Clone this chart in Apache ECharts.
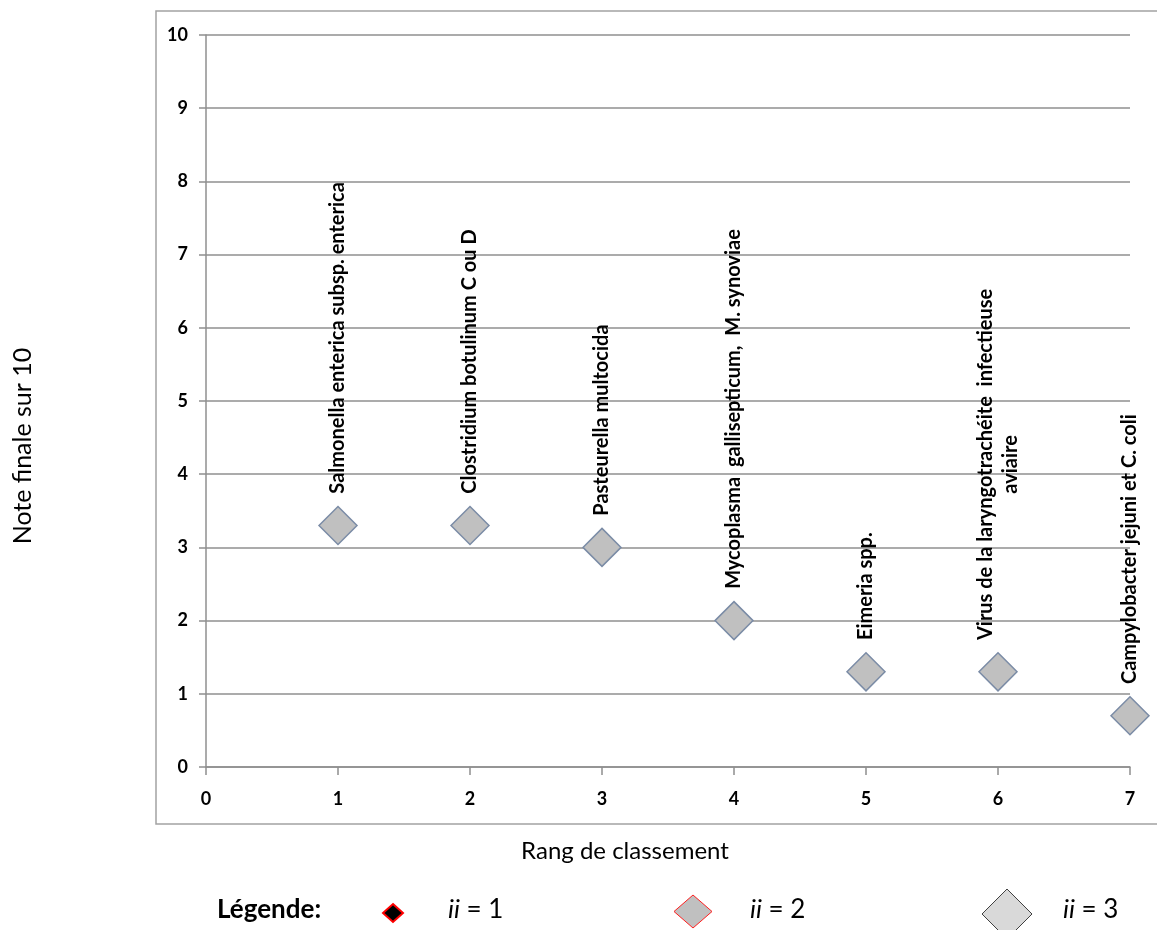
<!DOCTYPE html>
<html>
<head>
<meta charset="utf-8">
<script src="https://cdn.jsdelivr.net/npm/echarts@6/dist/echarts.min.js"></script>
<style>
  html, body { margin: 0; padding: 0; background: #fff; }
  #chart { width: 1157px; height: 930px; }
</style>
</head>
<body>
<div id="chart"></div>
<script>
// ---- Data ----
const ranks = [1, 2, 3, 4, 5, 6, 7];
const scores = [3.3, 3.3, 3.0, 2.0, 1.3, 1.3, 0.7];
const names = [
  'Salmonella enterica subsp. enterica',
  'Clostridium botulinum C ou D',
  'Pasteurella multocida',
  'Mycoplasma  gallisepticum,  M. synoviae',
  'Eimeria spp.',
  'Virus de la laryngotrachéite  infectieuse\naviaire',
  'Campylobacter jejuni et C. coli'
];
const xTicks = [0, 1, 2, 3, 4, 5, 6, 7];
const yTicks = [0, 1, 2, 3, 4, 5, 6, 7, 8, 9, 10];
const xTitle = 'Rang de classement';
const yTitle = 'Note finale sur 10';
const legendTitle = 'Légende:';
const legendItems = ['1', '2', '3'];

const FONT = 'Lato';
const GRID_COLOR = '#8f8f8f';

const chart = echarts.init(document.getElementById('chart'));

const seriesData = ranks.map((r, i) => ({ name: names[i], value: [r, scores[i]] }));

const legendText = (left, n) => ({
  type: 'text', left: left, top: 897,
  style: { text: '{i|ii} = ' + n, fontFamily: FONT, fontSize: 26, fill: '#000',
    rich: { i: { fontFamily: FONT, fontSize: 26, fontStyle: 'italic', fill: '#000' } } }
});

const option = {
  animation: false,
  backgroundColor: '#fff',
  grid: { left: 206, right: 27, top: 35, bottom: 163, containLabel: false },
  xAxis: {
    type: 'value',
    min: xTicks[0],
    max: xTicks[xTicks.length - 1],
    interval: 1,
    name: xTitle,
    nameLocation: 'middle',
    nameGap: 72,
    nameTextStyle: { fontFamily: FONT, fontSize: 24, color: '#000', padding: [0, 86, 0, 0] },
    axisLine: { show: true, onZero: false, lineStyle: { color: GRID_COLOR, width: 1.5 } },
    axisTick: { show: true, length: 8, lineStyle: { color: GRID_COLOR, width: 1.5 } },
    axisLabel: { fontFamily: FONT, fontWeight: 'bold', fontSize: 18, color: '#000', margin: 23 },
    splitLine: { show: false }
  },
  yAxis: {
    type: 'value',
    min: yTicks[0],
    max: yTicks[yTicks.length - 1],
    interval: 1,
    name: yTitle,
    nameLocation: 'middle',
    nameGap: 171,
    nameTextStyle: { fontFamily: FONT, fontSize: 25, color: '#000', padding: [0, 90, 0, 0] },
    axisLine: { show: true, lineStyle: { color: GRID_COLOR, width: 1.5 } },
    axisTick: { show: true, length: 7, lineStyle: { color: GRID_COLOR, width: 1.5 } },
    axisLabel: { fontFamily: FONT, fontWeight: 'bold', fontSize: 18, color: '#000', margin: 18 },
    splitLine: { show: true, lineStyle: { color: GRID_COLOR, width: 1.5 } }
  },
  series: [{
    type: 'scatter',
    symbol: 'diamond',
    symbolSize: 38,
    data: seriesData,
    itemStyle: { color: '#c0c0c0', borderColor: '#7b8ca6', borderWidth: 1.5, opacity: 1 },
    label: {
      show: true,
      position: 'top',
      distance: 12,
      rotate: 90,
      align: 'left',
      verticalAlign: 'middle',
      formatter: p => p.name.split('\n').map(s => '{c|' + s + '}').join('\n'),
      rich: {
        c: { fontFamily: FONT, fontWeight: 'bold', fontSize: 20, color: '#000', align: 'center', lineHeight: 25 }
      }
    },
    emphasis: { disabled: true }
  }],
  graphic: [
    {
      type: 'rect', silent: true, z: -1,
      shape: { x: 156, y: 11, width: 1020, height: 813 },
      style: { fill: 'none', stroke: '#a3a3a3', lineWidth: 1.5 }
    },
    {
      type: 'text', left: 217, top: 897,
      style: { text: legendTitle, fontFamily: FONT, fontWeight: 'bold', fontSize: 26, fill: '#000' }
    },
    {
      type: 'polygon',
      shape: { points: [[393, 904], [403, 913], [393, 922], [383, 913]] },
      style: { fill: '#000', stroke: '#ff0000', lineWidth: 2 }
    },
    legendText(448, legendItems[0]),
    {
      type: 'polygon',
      shape: { points: [[693, 895], [712, 911.5], [693, 928], [674, 911.5]] },
      style: { fill: '#c0c0c0', stroke: '#ff2020', lineWidth: 1 }
    },
    legendText(750, legendItems[1]),
    {
      type: 'polygon',
      shape: { points: [[1007, 889], [1032, 914], [1007, 939], [982, 914]] },
      style: { fill: '#d9d9d9', stroke: '#404040', lineWidth: 1 }
    },
    legendText(1063, legendItems[2])
  ]
};

chart.setOption(option);
</script>
</body>
</html>
